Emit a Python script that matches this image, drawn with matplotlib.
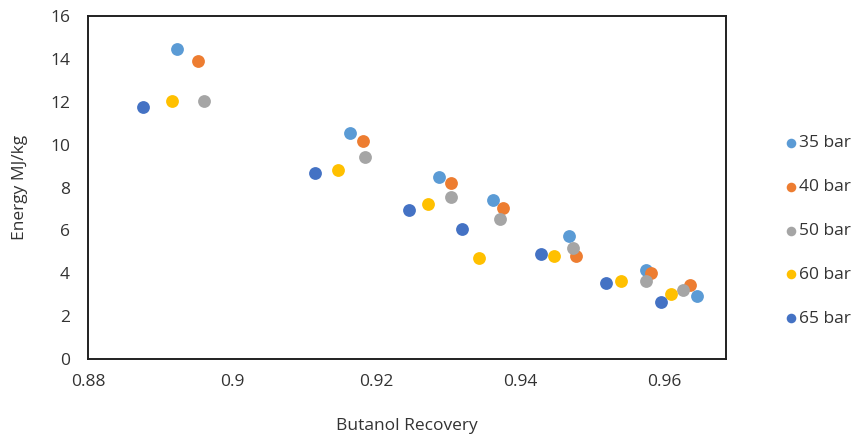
import matplotlib
matplotlib.use("Agg")
import matplotlib.pyplot as plt

plt.rcParams['font.family'] = ['Open Sans', 'DejaVu Sans']

series_names = ["35 bar", "40 bar", "50 bar", "60 bar", "65 bar"]
colors = ["#5B9BD5", "#ED7D31", "#A5A5A5", "#FFC000", "#4472C4"]

x35 = [0.8924, 0.9164, 0.9288, 0.9363, 0.9468, 0.9575, 0.9646]
y35 = [14.46, 10.54, 8.49, 7.42, 5.74, 4.15, 2.94]
x40 = [0.8953, 0.9182, 0.9304, 0.9376, 0.9478, 0.9582, 0.9636]
y40 = [13.90, 10.17, 8.21, 7.04, 4.80, 4.01, 3.45]
x50 = [0.8961, 0.9185, 0.9304, 0.9372, 0.9474, 0.9575, 0.9626]
y50 = [12.03, 9.42, 7.56, 6.53, 5.18, 3.64, 3.22]
x60 = [0.8917, 0.9147, 0.9272, 0.9343, 0.9447, 0.9540, 0.9610]
y60 = [12.03, 8.82, 7.23, 4.71, 4.80, 3.64, 3.03]
x65 = [0.8876, 0.9115, 0.9246, 0.9319, 0.9429, 0.9519, 0.9596]
y65 = [11.75, 8.68, 6.95, 6.06, 4.90, 3.54, 2.66]

xs = [x35, x40, x50, x60, x65]
ys = [y35, y40, y50, y60, y65]

xticks = [0.88, 0.9, 0.92, 0.94, 0.96]
xtick_labels = ["0.88", "0.9", "0.92", "0.94", "0.96"]
yticks = [0, 2, 4, 6, 8, 10, 12, 14, 16]

fig = plt.figure(figsize=(8.68, 4.42), dpi=100)
ax = fig.add_axes([88/868, 1 - 359/442, (726-88)/868, (359-16)/442])

for xv, yv, c, n in zip(xs, ys, colors, series_names):
    ax.scatter(xv, yv, s=85, color=c, label=n, linewidths=0, zorder=3)

ax.set_xlim(0.88, 0.9686)
ax.set_ylim(0, 16)
ax.set_xticks(xticks)
ax.set_xticklabels(xtick_labels)
ax.set_yticks(yticks)
ax.tick_params(length=0, labelsize=12.5, colors="#333333")
ax.tick_params(axis='y', pad=13)
ax.tick_params(axis='x', pad=11)
for s in ax.spines.values():
    s.set_linewidth(1.4)
    s.set_color("#202020")

ax.set_xlabel("Butanol Recovery", fontsize=12.5, color="#333333", labelpad=20)
ax.set_ylabel("Energy MJ/kg", fontsize=12.5, color="#333333", labelpad=16)

leg = ax.legend(loc="center left", bbox_to_anchor=(779/868, 1 - 231/442),
                bbox_transform=fig.transFigure, frameon=False, fontsize=12.5,
                handlelength=0.6, handletextpad=0.15, labelspacing=1.6,
                markerscale=0.75, borderaxespad=0)
for t in leg.get_texts():
    t.set_color("#333333")

fig.savefig("out.png", dpi=100)
